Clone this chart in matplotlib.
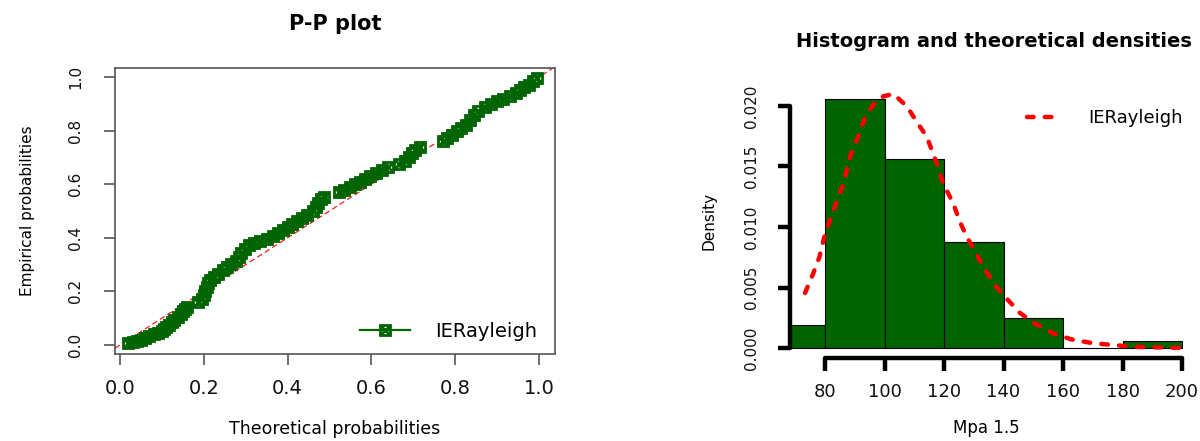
import matplotlib
matplotlib.use("Agg")
import matplotlib.pyplot as plt
from matplotlib.lines import Line2D
from matplotlib.legend_handler import HandlerTuple

# ---------------- data ----------------
theo_prob = [0.020, 0.030, 0.040, 0.050, 0.060, 0.070, 0.080, 0.090, 0.100, 0.105,
             0.110, 0.118, 0.125, 0.130, 0.138, 0.145, 0.150, 0.155, 0.160, 0.185,
             0.195, 0.200, 0.203, 0.207, 0.210, 0.215, 0.225, 0.235, 0.245, 0.255,
             0.265, 0.278, 0.285, 0.290, 0.298, 0.308, 0.320, 0.335, 0.350, 0.365,
             0.378, 0.390, 0.400, 0.410, 0.422, 0.435, 0.447, 0.460, 0.467, 0.472,
             0.480, 0.487, 0.522, 0.535, 0.548, 0.560, 0.573, 0.585, 0.597, 0.610,
             0.625, 0.640, 0.665, 0.680, 0.690, 0.697, 0.705, 0.715, 0.770, 0.780,
             0.792, 0.805, 0.815, 0.825, 0.835, 0.845, 0.855, 0.870, 0.885, 0.900,
             0.915, 0.930, 0.945, 0.955, 0.965, 0.975, 0.985, 0.995]
emp_prob = [0.006, 0.010, 0.015, 0.020, 0.025, 0.032, 0.040, 0.046, 0.052, 0.060,
            0.068, 0.076, 0.085, 0.095, 0.105, 0.115, 0.125, 0.133, 0.140, 0.160,
            0.170, 0.185, 0.200, 0.215, 0.230, 0.243, 0.252, 0.265, 0.278, 0.292,
            0.302, 0.315, 0.330, 0.345, 0.360, 0.372, 0.380, 0.388, 0.397, 0.407,
            0.418, 0.428, 0.440, 0.452, 0.462, 0.473, 0.485, 0.500, 0.515, 0.530,
            0.545, 0.553, 0.570, 0.580, 0.590, 0.600, 0.610, 0.620, 0.630, 0.640,
            0.652, 0.663, 0.675, 0.685, 0.700, 0.715, 0.728, 0.738, 0.760, 0.772,
            0.785, 0.797, 0.808, 0.822, 0.840, 0.858, 0.875, 0.888, 0.900, 0.910,
            0.918, 0.928, 0.940, 0.952, 0.962, 0.972, 0.985, 0.995]

bin_edges = [60, 80, 100, 120, 140, 160, 180, 200]
bin_density = [0.0019, 0.0206, 0.0156, 0.0088, 0.00245, 0.0, 0.0006]

curve_x = [73.3, 76.1, 78.1, 79.7, 81.7, 83.9, 86.2, 88.4, 90.7, 93.4, 96.2, 99.6,
           103.0, 107.6, 110.8, 114.2, 117.5, 119.7, 123.0, 125.4, 127.6, 130.4,
           133.2, 137.1, 141.0, 145.5, 150.0, 156.7, 163.0, 170.0, 176.8, 183.5,
           196.0, 200.0]
curve_y = [0.00455, 0.0062, 0.0075, 0.0091, 0.0106, 0.0121, 0.0136, 0.0158, 0.0172,
           0.0190, 0.0201, 0.0208, 0.0210, 0.01995, 0.0187, 0.01746, 0.0153, 0.0136,
           0.0120, 0.0104, 0.0092, 0.0080, 0.0067, 0.0052, 0.0041, 0.0029, 0.0021,
           0.0012, 0.0007, 0.0004, 0.00025, 0.0001, 0.00003, 0.00002]

pp_ticks = [0.0, 0.2, 0.4, 0.6, 0.8, 1.0]
hist_xticks = [80, 100, 120, 140, 160, 180, 200]
hist_yticks = [0.000, 0.005, 0.010, 0.015, 0.020]

GREEN = "#006400"
W, H = 1200, 441
fig = plt.figure(figsize=(12, 4.41), dpi=100)

# ---------------- P-P plot ----------------
ax1 = fig.add_axes([115 / W, (H - 354) / H, 440 / W, 286 / H])
ax1.axline((0, 0), (1, 1), color="red", lw=0.8, ls=(0, (5, 3)), zorder=1)
ax1.plot(theo_prob, emp_prob, ls="none", marker="s", ms=7.5, mfc="none",
         mec=GREEN, mew=2.0, zorder=3)
ax1.plot(theo_prob, emp_prob, ls="none", marker="x", ms=7, mec=GREEN,
         mew=2.0, zorder=3)
ax1.set_xlim(-0.0119, 1.0382)
ax1.set_ylim(-0.0336, 1.0336)
ax1.set_xticks(pp_ticks)
ax1.set_yticks(pp_ticks)
ax1.set_xticklabels([f"{t:.1f}" for t in pp_ticks], fontsize=14)
ax1.set_yticklabels([f"{t:.1f}" for t in pp_ticks], fontsize=11, rotation=90,
                    va="center")
for s in ax1.spines.values():
    s.set_color("#555555")
    s.set_linewidth(1.2)
ax1.tick_params(axis="both", length=8, width=1.2, color="#555555", labelcolor="#111111")
ax1.tick_params(axis="x", pad=10)
ax1.tick_params(axis="y", pad=15)
ax1.set_xlabel("Theoretical probabilities", fontsize=12.5, labelpad=16)
ax1.set_ylabel("Empirical probabilities", fontsize=11, labelpad=24)
ax1.set_title("P-P plot", fontsize=15, fontweight="bold", pad=27)

h_line = Line2D([], [], color=GREEN, lw=1.6)
h_sq = Line2D([], [], ls="none", marker="s", ms=7.5, mfc="none", mec=GREEN, mew=2.0)
h_x = Line2D([], [], ls="none", marker="x", ms=7, mec=GREEN, mew=2.0)
ax1.legend([(h_line, h_sq, h_x)], ["IERayleigh"],
           handler_map={tuple: HandlerTuple(ndivide=1)},
           loc="lower right", frameon=False, fontsize=14, handlelength=2.6,
           handletextpad=1.3, bbox_to_anchor=(1.0, -0.015))

# ---------------- Histogram ----------------
ax2 = fig.add_axes([790 / W, (H - 358) / H, 393 / W, 275 / H])
ax2.hist(bin_edges[:-1], bins=bin_edges, weights=bin_density, color=GREEN,
         edgecolor="black", linewidth=0.8, zorder=2)
ax2.plot(curve_x, curve_y, color="red", lw=3.2, ls=(0, (1.5, 2.5)),
         dash_capstyle="round", zorder=3, label="IERayleigh")
ax2.set_xlim(68.24, 200.3)
ax2.set_ylim(-0.000826, 0.0219)
for side in ("top", "right"):
    ax2.spines[side].set_visible(False)
ax2.spines["left"].set_bounds(0, 0.020)
ax2.spines["bottom"].set_bounds(80, 200)
for side in ("left", "bottom"):
    ax2.spines[side].set_linewidth(3.2)
    ax2.spines[side].set_capstyle("round")
ax2.set_xticks(hist_xticks)
ax2.set_yticks(hist_yticks)
ax2.set_xticklabels([str(t) for t in hist_xticks], fontsize=13)
ax2.set_yticklabels([f"{t:.3f}" for t in hist_yticks], fontsize=11, rotation=90,
                    va="center")
ax2.tick_params(axis="both", length=9, width=3.2, color="black", labelcolor="#111111")
ax2.tick_params(axis="x", pad=9)
ax2.tick_params(axis="y", pad=13)
ax2.set_xlabel("Mpa 1.5", fontsize=12, labelpad=13)
ax2.set_ylabel("Density", fontsize=11, labelpad=20)
ax2.set_title("Histogram and theoretical densities", fontsize=14, fontweight="bold",
              pad=26, x=0.52)
ax2.legend(loc="upper right", frameon=False, fontsize=13, handlelength=1.6,
           handletextpad=1.8, bbox_to_anchor=(1.04, 0.965))

fig.savefig("out.png", dpi=100)
